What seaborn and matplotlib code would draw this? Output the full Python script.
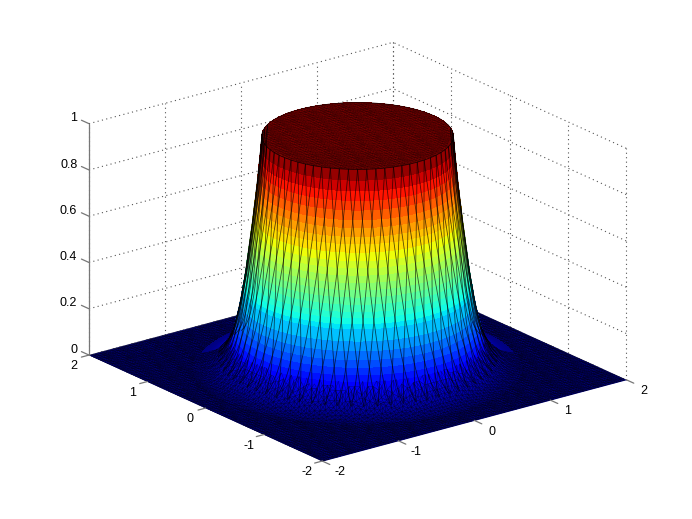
import numpy as np
import matplotlib
matplotlib.use("Agg")
import matplotlib.pyplot as plt
import matplotlib.tri as mtri
from mpl_toolkits.mplot3d.art3d import Line3DCollection
import seaborn as sns

sns.set_theme(style="white")
plt.rcParams["font.family"] = ["Liberation Sans", "DejaVu Sans"]

# wall of the surface, by distance from the centre
radius = [1.00, 1.01, 1.02, 1.03, 1.04, 1.05, 1.06, 1.07, 1.08, 1.09,
          1.10, 1.11, 1.12, 1.13, 1.14, 1.15, 1.16, 1.17, 1.18, 1.19,
          1.20, 1.22, 1.24, 1.26, 1.28, 1.30, 1.32, 1.34, 1.36, 1.38,
          1.40, 1.42, 1.44, 1.46, 1.48, 1.50, 1.52, 1.54, 1.56, 1.58,
          1.60, 1.62, 1.64, 1.66, 1.68]
height = [1.00, 0.955, 0.91, 0.87, 0.83, 0.79, 0.757, 0.72, 0.69, 0.655,
          0.62, 0.59, 0.56, 0.53, 0.50, 0.47, 0.44, 0.41, 0.385, 0.36,
          0.34, 0.29, 0.25, 0.215, 0.185, 0.155, 0.13, 0.11, 0.095, 0.08,
          0.068, 0.058, 0.05, 0.042, 0.035, 0.028, 0.022, 0.018, 0.014, 0.011,
          0.008, 0.005, 0.003, 0.001, 0.0]

xy_ticks = [-2, -1, 0, 1, 2]
z_ticks = [0, 0.2, 0.4, 0.6, 0.8, 1]
z_labels = ["0", "0.2", "0.4", "0.6", "0.8", "1"]

GRID = dict(color="#555555", lw=0.8, ls=(0, (1, 3)), zorder=1)
AXIS = dict(color="#777777", lw=0.9, zorder=7)
LABEL = dict(va="center", fontsize=9, color="black", zorder=8)
AZIM = -127.5

fig = plt.figure(figsize=(6.92, 5.19), dpi=100)
ax = fig.add_subplot(projection="3d", proj_type="ortho", computed_zorder=False)

# stretch the cube to fill a rectangle, the way the original does
rect = [0.0188, 0.052, 0.9697, 0.9017]
ax.apply_aspect = lambda position=None: ax._set_position(rect, "active")

ax.view_init(elev=30, azim=AZIM)
ax.set_box_aspect((1, 1, 1), zoom=0.96)
ax.set_xlim(-2, 2)
ax.set_ylim(-2, 2)
ax.set_zlim(0, 1)
ax.set_axis_off()

# dotted back walls
for t in xy_ticks:
    ax.plot([t, t], [2, 2], [0, 1], **GRID)
    ax.plot([2, 2], [t, t], [0, 1], **GRID)
for z in z_ticks[1:]:
    ax.plot([-2, 2], [2, 2], [z, z], **GRID)
    ax.plot([2, 2], [-2, 2], [z, z], **GRID)

cmap = plt.get_cmap("jet")
r = np.array(radius)
h = np.array(height)

# square mesh, used for the floor, the foot of the wall and the lid
grid = np.linspace(-2, 2, 101)
X, Y = np.meshgrid(grid, grid)
X, Y = X.ravel(), Y.ravel()
tri = mtri.Triangulation(X, Y)
cx = X[tri.triangles].mean(axis=1)
cy = Y[tri.triangles].mean(axis=1)
cr = np.hypot(cx, cy)
MESH = dict(cmap=cmap, vmin=0, vmax=1, linewidth=0.3, shade=False)

# solid floor under the mesh so no white shows through the seams
ax.plot_surface(np.array([[-2, 2], [-2, 2]]), np.array([[-2, -2], [2, 2]]), np.zeros((2, 2)),
                color=cmap(0.0), linewidth=0, shade=False, zorder=2)
ax.plot_trisurf(tri, np.zeros_like(X), edgecolor=(0, 0, 0, 0.6), zorder=2, **MESH)

# smooth wall
theta = np.linspace(0, 2 * np.pi, 241)
T, Rr = np.meshgrid(theta, r)
Zw = np.tile(h[:, None], (1, theta.size))
ax.plot_surface(Rr * np.cos(T), Rr * np.sin(T), Zw, rstride=1, cstride=1, cmap=cmap,
                vmin=0, vmax=1, linewidth=0, antialiased=False, shade=False, zorder=3)

# foot of the wall: mesh nodes take the nearest profile entry
nearest = np.abs(np.hypot(X, Y)[:, None] - r).argmin(axis=1)
off = np.degrees(np.arctan2(cy, cx)) - AZIM
off = (off + 180) % 360 - 180
foot = mtri.Triangulation(X, Y, tri.triangles)
foot.set_mask((cr < 1.34) | (cr > 1.72) | (np.abs(off) > 105))
ax.plot_trisurf(foot, h[nearest], edgecolor=(0, 0, 0, 0.5), zorder=4, **MESH)

# lid: solid disc, then mesh clipped to the disc
T2, R2 = np.meshgrid(theta, [0, 1])
ax.plot_surface(R2 * np.cos(T2), R2 * np.sin(T2), np.ones_like(T2), rstride=1, cstride=1,
                color=cmap(1.0), linewidth=0, shade=False, zorder=4)
lid = mtri.Triangulation(X, Y, tri.triangles)
lid.set_mask(cr > 0.985)
ax.plot_trisurf(lid, np.ones_like(X), edgecolor=(0, 0, 0, 0.4), zorder=5, **MESH)
ax.plot(np.cos(theta), np.sin(theta), np.ones_like(theta), color="#200000", lw=0.6, zorder=6)

# crossing mesh lines on the side of the wall that faces the viewer
keep = r <= 1.46
twist = 0.20 * (1 - h[keep]) + 0.10 * (r[keep] - 1)
segs = []
for start in np.arange(-110, 110, 5.5):
    for sign in (1, -1):
        a = np.radians(AZIM + start) + sign * twist
        segs.append(np.column_stack([r[keep] * np.cos(a), r[keep] * np.sin(a), h[keep]]))
ax.add_collection3d(Line3DCollection(segs, colors=[(0, 0, 0, 0.65)], linewidths=0.6, zorder=6))

# axis line and tick marks
ax.plot([-2, -2], [2, 2], [0, 1], **AXIS)
for z, lab in zip(z_ticks, z_labels):
    ax.plot([-2, -2], [2, 2.13], [z, z], **AXIS)
    ax.text(-2, 2.2, z, lab, ha="right", **LABEL)
for t in xy_ticks:
    ax.plot([t, t], [-2, -2.13], [0, 0], **AXIS)
    ax.plot([-2, -2.1], [t, t], [0, 0], **AXIS)
    ax.text(t, -2.3, -0.015, str(t), ha="center", **LABEL)
    ax.text(-2.2, t, -0.03, str(t), ha="center", **LABEL)

fig.savefig("out.png", dpi=100)
